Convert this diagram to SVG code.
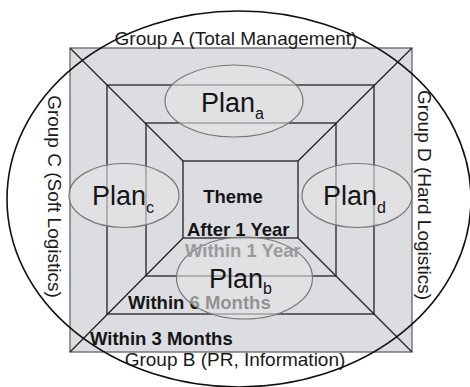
<svg xmlns="http://www.w3.org/2000/svg" width="470" height="387" viewBox="0 0 470 387">
<style>
  .ring { fill: #dcdde0; stroke: #222; stroke-width: 1.3; }
  .outer { fill: #dcdde0; stroke: #666; stroke-width: 1.3; }
  .diag { stroke: #222; stroke-width: 1.3; fill: none; }
  .plan { fill: #e4e4e6; fill-opacity: 0.6; stroke: #777; stroke-width: 1.2; }
  .big { fill: none; stroke: #111; stroke-width: 1.6; }
  .grp { font-family: "Liberation Sans", Arial, sans-serif; font-size: 19px; fill: #1a1a1a; }
  .lbl { font-family: "Liberation Sans", Arial, sans-serif; font-size: 18.5px; font-weight: bold; fill: #151515; }
  .pl { font-family: "Liberation Sans", Arial, sans-serif; font-size: 27px; fill: #151515; }
  .sub { font-size: 16px; }
</style>
<g id="rings">
  <rect class="outer" x="70" y="48" width="342" height="304"/>
  <rect class="ring" x="107" y="85" width="267" height="229"/>
  <rect class="ring" x="146" y="123" width="190" height="153"/>
  <rect class="ring" x="183" y="161" width="115" height="77"/>
</g>
<g id="connectors">
  <line class="diag" x1="70" y1="48" x2="183" y2="161"/>
  <line class="diag" x1="412" y1="48" x2="298" y2="161"/>
  <line class="diag" x1="70" y1="352" x2="183" y2="238"/>
  <line class="diag" x1="412" y1="352" x2="298" y2="238"/>
</g>
<g id="labels">
  <text class="lbl" x="233" y="203" text-anchor="middle">Theme</text>
  <text class="lbl" x="187" y="236">After 1 Year</text>
  <text class="lbl" x="128" y="309">Within 6 Months</text>
  <text class="lbl" x="90" y="345">Within 3 Months</text>
</g>
<g id="plan-a">
  <ellipse class="plan" cx="234" cy="101" rx="69" ry="36"/>
  <text class="pl" x="201" y="112">Plan<tspan class="sub" dy="7">a</tspan></text>
</g>
<g id="plan-c">
  <ellipse class="plan" cx="124" cy="195.5" rx="55" ry="32"/>
  <text class="pl" x="92" y="205">Plan<tspan class="sub" dy="8">c</tspan></text>
</g>
<g id="plan-d">
  <ellipse class="plan" cx="357" cy="195.5" rx="55" ry="32"/>
  <text class="pl" x="323" y="205">Plan<tspan class="sub" dy="8">d</tspan></text>
</g>
<g id="plan-b">
  <ellipse class="plan" cx="244.5" cy="278" rx="68" ry="41"/>
  <text class="pl" x="209" y="288">Plan<tspan class="sub" dy="6">b</tspan></text>
</g>
<g id="within-1-year">
  <text class="lbl" x="185" y="257" style="fill:#9a9a9a">Within 1 Year</text>
</g>
<g id="groups">
  <ellipse class="big" cx="239" cy="199" rx="232" ry="188"/>
  <text class="grp" x="236" y="45" text-anchor="middle">Group A (Total Management)</text>
  <text class="grp" x="235" y="366" text-anchor="middle">Group B (PR, Information)</text>
  <text class="grp" transform="translate(48,196.5) rotate(90)" text-anchor="middle">Group C (Soft Logistics)</text>
  <text class="grp" transform="translate(418,195) rotate(90)" text-anchor="middle">Group D (Hard Logistics)</text>
</g>
</svg>
